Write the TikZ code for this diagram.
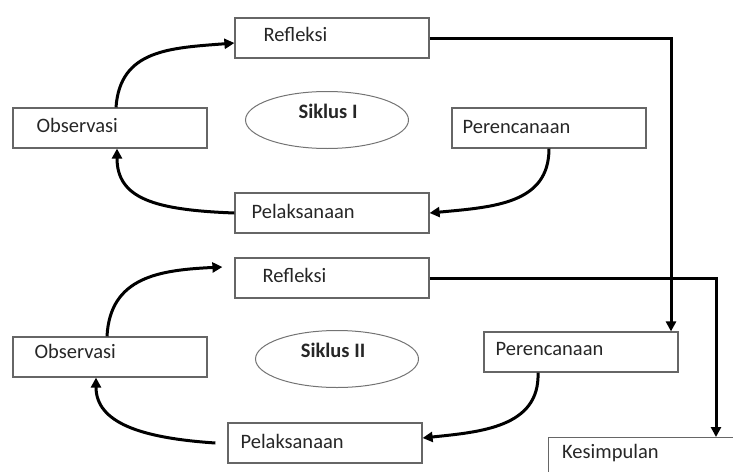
\documentclass[tikz,border=0pt]{standalone}
\usepackage{fontspec}
\setmainfont{Carlito}
\usetikzlibrary{arrows.meta,shapes.geometric,positioning}

\begin{document}
\begin{tikzpicture}[x=1pt, y=-1pt,
    box/.style ={rectangle, draw=black!60, line width=1.2pt, minimum width=194pt, minimum height=40pt, inner sep=0pt},
    cyc/.style ={ellipse, draw=black!55, line width=1pt, minimum width=163pt, minimum height=57pt, inner sep=0pt},
    txt/.style ={inner sep=0pt, text=black!85, font=\fontsize{20.5}{24}\selectfont},
    flow/.style ={line width=3pt, -{Triangle[length=10pt, width=10pt]}}]
   \clip (0,0) rectangle (733,471);
   % Siklus I
   \node[box] (ref1) at (332,38)  {};
   \node[box] (obs1) at (110,128) {};
   \node[box] (per1) at (549,128) {};
   \node[box] (pel1) at (332,213) {};
   \node[cyc] (ell1) at (327,120) {};
   \node[txt, right=29pt of ref1.west, yshift=4pt] (ref1t) {Refleksi};
   \node[txt, right=24pt of obs1.west, yshift=3pt] (obs1t) {Observasi};
   \node[txt, right=11pt of per1.west, yshift=1pt] (per1t) {Perencanaan};
   \node[txt, right=17pt of pel1.west, yshift=2pt] (pel1t) {Pelaksanaan};
   \node[txt, font=\fontsize{20.5}{24}\selectfont\bfseries] (ell1t) at ([xshift=1pt,yshift=9pt]ell1.center) {Siklus I};
   % Siklus II
   \node[box] (ref2) at (332,278) {};
   \node[box] (obs2) at (110,357) {};
   \node[box] (per2) at (581,352) {};
   \node[box] (pel2) at (325,443) {};
   \node[cyc] (ell2) at (337,359) {};
   \node[box, anchor=north west] (kes) at (548,437) {};
   \node[txt, right=28pt of ref2.west, yshift=3pt] (ref2t) {Refleksi};
   \node[txt, right=22pt of obs2.west, yshift=6pt] (obs2t) {Observasi};
   \node[txt, right=12pt of per2.west, yshift=3pt] (per2t) {Perencanaan};
   \node[txt, right=13pt of pel2.west, yshift=2pt] (pel2t) {Pelaksanaan};
   \node[txt, right=14pt of kes.west, yshift=5pt] (kest) {Kesimpulan};
   \node[txt, font=\fontsize{20.5}{24}\selectfont\bfseries] (ell2t) at ([xshift=-4pt,yshift=9pt]ell2.center) {Siklus II};
   % arrows
   \draw[flow] (ref1.east) -| ([xshift=90pt]per2.north);
   \draw[flow] (per1.south) .. controls +(0,55) and +(65,-6) .. (pel1.east);
   \draw[flow] (pel1.west) .. controls +(-80,-3) and +(0,50) .. ([xshift=7pt]obs1.south);
   \draw[flow] ([xshift=6pt]obs1.north) .. controls +(4,-58) and +(-64,5) .. ([yshift=-5pt]ref1.west);
   \draw[flow] (ref2.east) -| ([xshift=168pt]kes.north west);
   \draw[flow] ([xshift=-43pt]per2.south) .. controls +(2,55) and +(57,-6) .. ([yshift=5pt]pel2.east);
   \draw[flow] ([xshift=-12pt]pel2.west) .. controls +(-75,-5) and +(0,45) .. ([xshift=-14pt]obs2.south);
   \draw[flow] ([xshift=-3pt]obs2.north) .. controls +(3,-60) and +(-62,3) .. ([xshift=-12pt,yshift=11pt]ref2.west);
\end{tikzpicture}
\end{document}
